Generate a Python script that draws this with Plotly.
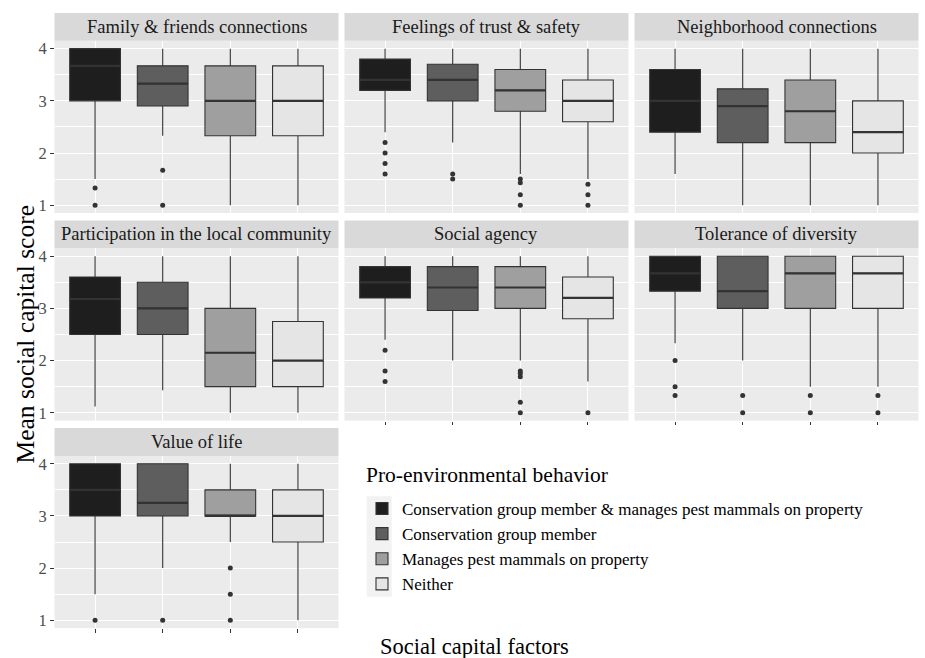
import plotly.graph_objects as go

# Facet titles (one panel per social capital factor)
factors = [
    "Family & friends connections",
    "Feelings of trust & safety",
    "Neighborhood connections",
    "Participation in the local community",
    "Social agency",
    "Tolerance of diversity",
    "Value of life",
]

# Pro-environmental behaviour groups (x categories inside every panel)
groups = [
    "Conservation group member & manages pest mammals on property",
    "Conservation group member",
    "Manages pest mammals on property",
    "Neither",
]

# Box statistics per factor, one value per group
lower_whisker = [
    [1.5, 2.33, 1.0, 1.0],
    [2.4, 2.2, 1.6, 1.5],
    [1.6, 1.0, 1.0, 1.0],
    [1.12, 1.43, 1.0, 1.0],
    [2.4, 2.0, 2.0, 1.6],
    [2.33, 2.0, 1.5, 1.5],
    [1.5, 2.0, 2.5, 1.0],
]
q1 = [
    [3.0, 2.9, 2.33, 2.33],
    [3.2, 3.0, 2.8, 2.6],
    [2.4, 2.2, 2.2, 2.0],
    [2.5, 2.5, 1.5, 1.5],
    [3.2, 2.96, 3.0, 2.8],
    [3.33, 3.0, 3.0, 3.0],
    [3.0, 3.0, 3.0, 2.5],
]
median = [
    [3.67, 3.33, 3.0, 3.0],
    [3.4, 3.4, 3.2, 3.0],
    [3.0, 2.9, 2.8, 2.4],
    [3.18, 3.0, 2.15, 2.0],
    [3.5, 3.4, 3.4, 3.2],
    [3.67, 3.33, 3.67, 3.67],
    [3.5, 3.25, 3.0, 3.0],
]
q3 = [
    [4.0, 3.67, 3.67, 3.67],
    [3.8, 3.7, 3.6, 3.4],
    [3.6, 3.23, 3.4, 3.0],
    [3.6, 3.5, 3.0, 2.75],
    [3.8, 3.8, 3.8, 3.6],
    [4.0, 4.0, 4.0, 4.0],
    [4.0, 4.0, 3.5, 3.5],
]
upper_whisker = [
    [4.0, 4.0, 4.0, 4.0],
    [4.0, 4.0, 4.0, 4.0],
    [4.0, 4.0, 4.0, 4.0],
    [4.0, 4.0, 4.0, 4.0],
    [4.0, 4.0, 4.0, 4.0],
    [4.0, 4.0, 4.0, 4.0],
    [4.0, 4.0, 4.0, 4.0],
]
outliers = [
    [[1.33, 1.0], [1.67, 1.0], [], []],
    [[2.2, 2.0, 1.8, 1.6], [1.6, 1.5], [1.5, 1.43, 1.2, 1.0], [1.4, 1.2, 1.0]],
    [[], [], [], []],
    [[], [], [], []],
    [[2.2, 1.8, 1.6], [], [1.8, 1.75, 1.69, 1.2, 1.0], [1.0]],
    [[2.0, 1.5, 1.33], [1.33, 1.0], [1.33, 1.0], [1.33, 1.0]],
    [[1.0], [1.0], [2.0, 1.5, 1.0], []],
]
y_ticks = [1, 2, 3, 4]

fills = ["#1E1E1E", "#5E5E5E", "#9F9F9F", "#E5E5E5"]
EDGE = "#333333"
SERIF = "Liberation Serif, Times New Roman, serif"

W, H = 925, 658
col_left = [54.5, 344.5, 634.5]
col_w = 284
row_top = [40, 248.5, 457]
row_h = 173
strip_h = 28
box_w = 0.75
# panels that close a column and therefore carry x tick marks
tick_panels = {4, 5, 6}


def fx(px):
    return px / W


def fy(py):
    return 1 - py / H


fig = go.Figure()
layout_axes = {}
shapes = []
annotations = []

for i, name in enumerate(factors):
    r, c = divmod(i, 3)
    suffix = "" if i == 0 else str(i + 1)
    xa, ya = "x" + suffix, "y" + suffix

    for g in range(len(groups)):
        pos = g + 1
        fig.add_trace(go.Box(
            x=[pos], q1=[q1[i][g]], median=[median[i][g]], q3=[q3[i][g]],
            lowerfence=[lower_whisker[i][g]], upperfence=[upper_whisker[i][g]],
            width=box_w, whiskerwidth=0, boxpoints=False,
            fillcolor=fills[g], line=dict(color=EDGE, width=1.1),
            name=groups[g], showlegend=(i == 0),
            xaxis=xa, yaxis=ya, hoverinfo="y",
        ))
        # thicker median bar drawn over the box
        fig.add_trace(go.Scatter(
            x=[pos - box_w / 2, pos + box_w / 2],
            y=[median[i][g], median[i][g]],
            mode="lines", line=dict(color=EDGE, width=2.2),
            showlegend=False, hoverinfo="skip", xaxis=xa, yaxis=ya,
        ))
        if outliers[i][g]:
            fig.add_trace(go.Scatter(
                x=[pos] * len(outliers[i][g]), y=outliers[i][g],
                mode="markers", marker=dict(color=EDGE, size=5),
                showlegend=False, xaxis=xa, yaxis=ya,
            ))

    x0, x1 = col_left[c], col_left[c] + col_w
    y0, y1 = row_top[r], row_top[r] + row_h
    layout_axes["xaxis" + suffix] = dict(
        domain=[fx(x0), fx(x1)], anchor=ya, range=[0.4, 4.6],
        tickvals=[1, 2, 3, 4], showticklabels=False,
        showgrid=True, gridcolor="white", gridwidth=1.1, zeroline=False,
        ticks="outside" if i in tick_panels else "",
        ticklen=3.5, tickwidth=1.1, tickcolor=EDGE, fixedrange=True,
    )
    layout_axes["yaxis" + suffix] = dict(
        domain=[fy(y1), fy(y0)], anchor=xa, range=[0.85, 4.15],
        tickvals=y_ticks, showticklabels=(c == 0),
        ticks="outside" if c == 0 else "",
        ticklen=3.5, tickwidth=1.1, tickcolor=EDGE,
        tickfont=dict(family=SERIF, size=16.5, color="#4D4D4D"),
        showgrid=True, gridcolor="white", gridwidth=1.1, zeroline=False,
        minor=dict(tickvals=[1.5, 2.5, 3.5], showgrid=True,
                   gridcolor="white", gridwidth=0.55, ticks=""),
        fixedrange=True,
    )

    # facet strip
    shapes.append(dict(type="rect", xref="paper", yref="paper",
                       x0=fx(x0), x1=fx(x1), y0=fy(y0), y1=fy(y0 - strip_h),
                       fillcolor="#D9D9D9", line=dict(width=0), layer="below"))
    annotations.append(dict(text=name, xref="paper", yref="paper",
                            x=fx((x0 + x1) / 2), y=fy(y0 - strip_h / 2),
                            xanchor="center", yanchor="middle", showarrow=False,
                            font=dict(family=SERIF, size=18.5, color="#1A1A1A")))

# legend key background
shapes.append(dict(type="rect", xref="paper", yref="paper",
                   x0=fx(366.7), x1=fx(391.7), y0=fy(598.5), y1=fy(497.5),
                   fillcolor="#F2F2F2", line=dict(width=0), layer="below"))

# legend title
annotations.append(dict(text="Pro-environmental behavior", xref="paper", yref="paper",
                        x=fx(364), y=fy(476), showarrow=False,
                        xanchor="left", yanchor="middle",
                        font=dict(family=SERIF, size=21.5, color="#000000")))

annotations.append(dict(text="Mean social capital score", xref="paper", yref="paper",
                        x=fx(25), y=fy(335), textangle=-90, showarrow=False,
                        xanchor="center", yanchor="middle",
                        font=dict(family=SERIF, size=25.5, color="#000000")))
annotations.append(dict(text="Social capital factors", xref="paper", yref="paper",
                        x=fx(474), y=fy(648), showarrow=False,
                        xanchor="center", yanchor="middle",
                        font=dict(family=SERIF, size=22.5, color="#000000")))

fig.update_layout(
    width=W, height=H, autosize=False,
    margin=dict(l=0, r=0, t=0, b=0),
    paper_bgcolor="white", plot_bgcolor="#EBEBEB",
    boxmode="overlay",
    shapes=shapes, annotations=annotations,
    legend=dict(
        x=fx(362), y=fy(548), xanchor="left", yanchor="middle",
        bgcolor="rgba(0,0,0,0)", traceorder="normal",
        font=dict(family=SERIF, size=17, color="#000000"),
        itemclick=False, itemdoubleclick=False,
    ),
    **layout_axes,
)

fig.write_html("out.html")
